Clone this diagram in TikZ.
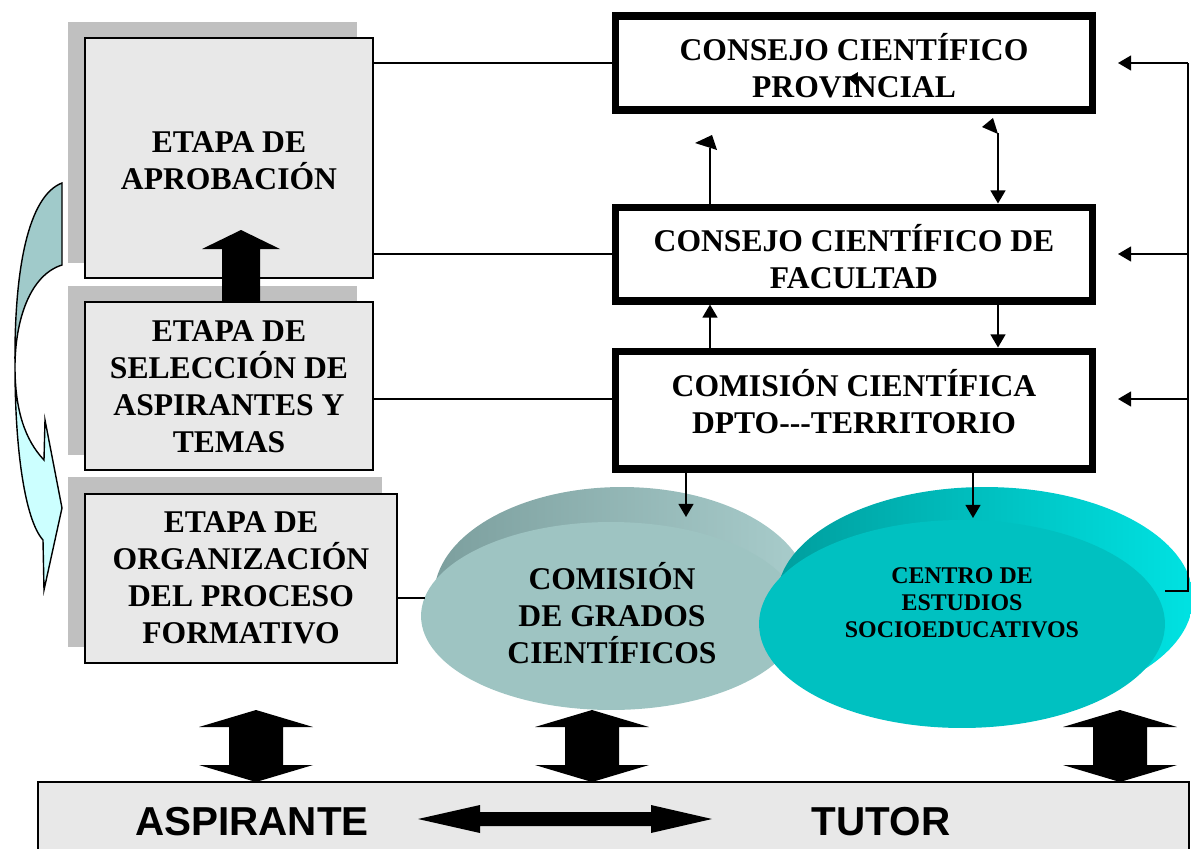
\documentclass[tikz,border=0pt]{standalone}
\usepackage{fontspec}
\setmainfont{Liberation Serif}
\newfontfamily\sansfnt{Liberation Sans}
\usetikzlibrary{arrows.meta,calc,shapes.geometric}
\definecolor{shadowgray}{HTML}{C0C0C0}
\definecolor{boxgray}{HTML}{E8E8E8}
\definecolor{grface}{HTML}{9EC4C2}
\definecolor{grrimL}{HTML}{7C9F9E}
\definecolor{grrimR}{HTML}{A9CDCC}
\definecolor{ceface}{HTML}{00C1C1}
\definecolor{cerimL}{HTML}{009E9E}
\definecolor{cerimR}{HTML}{00E2E2}
\definecolor{upcol}{HTML}{A0CACA}
\definecolor{lowcol}{HTML}{CCFFFF}
\begin{document}
\begin{tikzpicture}[x=0.02cm,y=-0.02cm,
  every node/.style={inner sep=0pt},
  txt/.style={font=\bfseries\fontsize{18}{21}\selectfont, align=center},
  smalltxt/.style={font=\bfseries\fontsize{13.6}{15.3}\selectfont, align=center},
  bottomtxt/.style={font=\sansfnt\bfseries\fontsize{23}{26}\selectfont},
  shadowbox/.style={fill=shadowgray},
  stagebox/.style={draw=black, line width=1.1pt, fill=boxgray},
  orgbox/.style={draw=black, line width=4pt, fill=white},
  conn/.style={draw=black, line width=1.1pt},
  arr/.style={conn, -{Triangle[length=7.5pt,width=8.5pt]}},
  bigarrow/.style={fill=black}]

\useasboundingbox (0,0) rectangle (1191,849);

% curved arrow on the left
\filldraw[fill=upcol, draw=black, line width=0.8pt]
  (62,183) .. controls (28,196) and (14,270) .. (15,367)
  .. controls (15,320) and (30,275) .. (62,265) -- cycle;
\filldraw[fill=lowcol, draw=black, line width=0.8pt]
  (15,367) .. controls (15,450) and (25,520) .. (43,540) -- (44,590) -- (62,508)
  -- (45,420) -- (44,460) .. controls (25,440) and (15,410) .. (15,367) -- cycle;

% stage boxes with shadows
\fill[shadowbox] (68,22) rectangle (357,263);
\fill[shadowbox] (68,286) rectangle (357,455);
\fill[shadowbox] (68,477) rectangle (382,647);
\node[stagebox, minimum width=5.76cm, minimum height=4.8cm] (b1) at (229,158) {};
\node[txt] (t1) at (229,161) {ETAPA DE\\APROBACIÓN};
\node[stagebox, minimum width=5.76cm, minimum height=3.36cm] (b2) at (229,386) {};
\node[txt] (t2) at (229,387) {ETAPA DE\\SELECCIÓN DE\\ASPIRANTES Y\\TEMAS};
\node[stagebox, minimum width=6.24cm, minimum height=3.38cm] (b3) at (241,578.5) {};
\node[txt] (t3) at (241,578) {ETAPA DE\\ORGANIZACIÓN\\DEL PROCESO\\FORMATIVO};

% thick up arrow between stage 2 and stage 1
\fill[bigarrow] (222,302) -- (222,249) -- (202,249) -- (241,230) -- (280,249)
  -- (260,249) -- (260,302) -- cycle;

% organisation boxes
\node[orgbox, minimum width=9.56cm, minimum height=1.88cm] (prov) at (854,63) {};
\node[txt] (tprov) at (854,66) {CONSEJO CIENTÍFICO\\PROVINCIAL};
\node[orgbox, minimum width=9.56cm, minimum height=1.88cm] (fac) at (854,254) {};
\node[txt] (tfac) at (854,257) {CONSEJO CIENTÍFICO DE\\FACULTAD};
\node[orgbox, minimum width=9.56cm, minimum height=2.36cm] (com) at (854,410) {};
\node[txt] (tcom) at (854,402) {COMISIÓN CIENTÍFICA\\DPTO-\kern0pt-\kern0pt-TERRITORIO};

% stray arrowhead inside PROVINCIAL
\fill (848,78) -- (858,72) -- (857,86) -- cycle;
\draw[line width=0.8pt] (857,84) -- (857,93);

% left-right connectors
\coordinate (c3) at (0,399);
\coordinate (c4) at (0,598);
\draw[conn] (b1.east |- prov.west) -- (prov.west);
\draw[conn] (b1.east |- fac.west) -- (fac.west);
\draw[conn] (b2.east |- c3) -- (com.west |- c3);

% ellipses
\node[ellipse, left color=grrimL, right color=grrimR, minimum width=7.52cm, minimum height=4.36cm] (grrim) at (622,596) {};
\node[ellipse, fill=grface, minimum width=7.6cm, minimum height=3.76cm] (gr) at (611,616) {};
\draw[conn] (b3.east |- c4) -- ($(gr.west |- c4)+(4,0)$);
\node[txt] (tgr) at (612,613) {COMISIÓN\\DE GRADOS\\CIENTÍFICOS};
\node[ellipse, left color=cerimL, right color=cerimR, minimum width=8.32cm, minimum height=4.44cm] (cerim) at (985,598) {};
\node[ellipse, fill=ceface, minimum width=8.12cm, minimum height=4.16cm] (ce) at (962,624) {};
\node[smalltxt] (tce) at (962,603) {CENTRO DE\\ESTUDIOS\\SOCIOEDUCATIVOS};

% right feedback line
\coordinate (rx) at (1188,0);
\coordinate (tx) at (1118,0);
\coordinate (rtop) at (rx |- prov.east);
\coordinate (rbot) at (1188,591);
\coordinate (cend) at (1165,591);
\coordinate (c5) at (0,399);
\draw[conn] (rtop) -- (rbot) -- (cend);
\draw[arr] (rtop) -- (tx |- prov.east);
\draw[arr] (rx |- fac.east) -- (tx |- fac.east);
\draw[arr] (rx |- c5) -- (tx |- c5);

% vertical arrows between boxes
\coordinate (xl) at (710,0);
\coordinate (xr) at (998,0);
\coordinate (xa) at (686,0);
\coordinate (xb) at (973,0);
\coordinate (ltop) at (710,148);
\coordinate (rtop2) at (998,133);
\draw[conn] (fac.north -| xl) -- (ltop);
\fill (695,143) -- (712,135) -- (717,150) -- cycle;
\draw[arr] (rtop2) -- (fac.north -| xr);
\fill (982,127) -- (993,118) -- (998,134) -- cycle;
\draw[arr] (com.north -| xl) -- (fac.south -| xl);
\draw[arr] (fac.south -| xr) -- (com.north -| xr);
\coordinate (ga) at (686,517);
\coordinate (cb) at (973,518);
\draw[arr] (com.south -| xa) -- (ga);
\draw[arr] (com.south -| xb) -- (cb);

% bottom bar
\node[draw=black, line width=1pt, fill=boxgray, minimum width=23.02cm, minimum height=1.56cm] (bar) at (613.5,821) {};
\node[bottomtxt] (asp) at (252,822) {ASPIRANTE};
\node[bottomtxt] (tut) at (881,822) {TUTOR};
\fill[bigarrow] (418,819) -- (480,805) -- (480,812) -- (651,812) -- (651,805) -- (712,819)
  -- (651,833) -- (651,826) -- (480,826) -- (480,833) -- cycle;
\foreach \cx in {256,592,1120}{
  \fill[bigarrow, shift={(\cx,0)}] (0,710) -- (57,727) -- (27,727) -- (27,765) -- (57,765)
    -- (0,782) -- (-57,765) -- (-27,765) -- (-27,727) -- (-57,727) -- cycle;
}
\end{tikzpicture}
\end{document}
